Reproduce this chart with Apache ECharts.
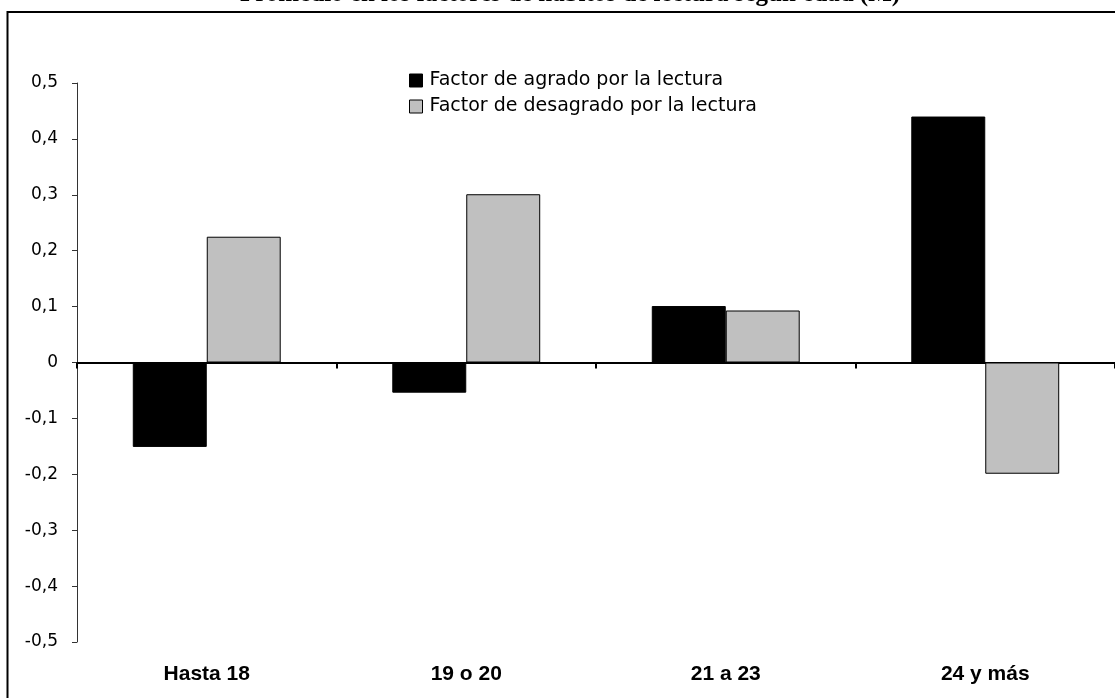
<!DOCTYPE html>
<html>
<head>
<meta charset="utf-8">
<script src="https://cdn.jsdelivr.net/npm/echarts@6/dist/echarts.min.js"></script>
<style>html,body{margin:0;padding:0;background:#fff;}#c{width:1115px;height:698px;}</style>
</head>
<body>
<div id="c"></div>
<script>
var titleText = 'Promedio en los factores de hábitos de lectura según edad (M)';
var categories = ['Hasta 18', '19 o 20', '21 a 23', '24 y más'];
var seriesNames = ['Factor de agrado por la lectura', 'Factor de desagrado por la lectura'];
var agrado = [-0.151, -0.054, 0.101, 0.440];
var desagrado = [0.225, 0.301, 0.093, -0.199];
var yTicks = { min: -0.5, max: 0.5, interval: 0.1 };

var chart = echarts.init(document.getElementById('c'), null, { renderer: 'canvas' });
function fmt(v) {
  if (Math.abs(v) < 1e-9) return '0';
  return v.toFixed(1).replace('.', ',');
}
var font = 'Liberation Sans, Arial, sans-serif';
var wideFont = 'DejaVu Sans, sans-serif';
chart.setOption({
  backgroundColor: '#fff',
  animation: false,
  graphic: [
    { type: 'rect', shape: { x: 7.5, y: 12, width: 1200, height: 800 }, style: { fill: 'none', stroke: '#000', lineWidth: 2 }, z: 0 },
    { type: 'text', x: 570, y: 7, style: { text: titleText, fontFamily: 'Liberation Serif', fontWeight: 'bold', fontSize: 25, fill: '#000', align: 'center', verticalAlign: 'bottom' } }
  ],
  legend: {
    orient: 'vertical',
    left: 404,
    top: 66,
    itemWidth: 13,
    itemHeight: 13,
    itemGap: 7,
    icon: 'rect',
    textStyle: { fontFamily: wideFont, fontSize: 19, color: '#000', padding: [0, 0, 0, 2] },
    data: [
      { name: seriesNames[0], itemStyle: { color: '#000', borderColor: '#000', borderWidth: 1 } },
      { name: seriesNames[1], itemStyle: { color: '#c0c0c0', borderColor: '#000', borderWidth: 1 } }
    ]
  },
  grid: { left: 77, right: -2, top: 83, bottom: 56, containLabel: false },
  xAxis: [
    {
      type: 'category', data: categories,
      axisLine: { onZero: true, lineStyle: { color: '#000', width: 2 } },
      axisTick: { show: true, length: 6, lineStyle: { color: '#000', width: 2 } },
      axisLabel: { show: false },
      splitLine: { show: false }
    },
    {
      type: 'category', data: categories, position: 'bottom',
      axisLine: { show: false, onZero: false },
      axisTick: { show: false },
      axisLabel: { show: true, fontFamily: font, fontSize: 21, fontWeight: 'bold', color: '#000', margin: 22 },
      splitLine: { show: false }
    }
  ],
  yAxis: {
    type: 'value', min: yTicks.min, max: yTicks.max, interval: yTicks.interval,
    axisLine: { show: true, lineStyle: { color: '#333', width: 1 } },
    axisTick: { show: true, length: 5, lineStyle: { color: '#333' } },
    axisLabel: { fontFamily: wideFont, fontSize: 17, color: '#000', margin: 19, formatter: fmt },
    splitLine: { show: false }
  },
  series: [
    { name: seriesNames[0], type: 'bar', data: agrado, barGap: '0%', barCategoryGap: '43%',
      itemStyle: { color: '#000', borderColor: '#000', borderWidth: 1 } },
    { name: seriesNames[1], type: 'bar', data: desagrado, barGap: '0%', barCategoryGap: '43%',
      itemStyle: { color: '#c0c0c0', borderColor: '#000', borderWidth: 1 } }
  ]
});
</script>
</body>
</html>
